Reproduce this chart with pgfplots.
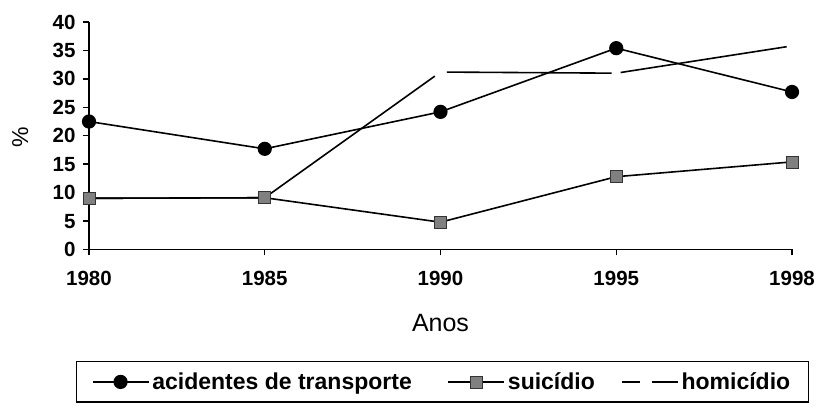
\documentclass[border=0pt]{standalone}
\usepackage{pgfplots}
\pgfplotsset{compat=1.18}
\usepackage{fontspec}
\setmainfont{Liberation Sans}
\begin{document}
\begin{tikzpicture}
\useasboundingbox (0,0) rectangle (818pt,414pt);
\begin{axis}[
  at={(89pt,164.5pt)}, anchor=south west,
  scale only axis, width=703pt, height=227.5pt,
  xmin=0, xmax=4, ymin=0, ymax=40,
  axis x line*=bottom, axis y line*=left,
  axis line style={line width=1.6pt, black},
  xtick={0,1,2,3,4}, xticklabels={1980,1985,1990,1995,1998},
  ytick={0,5,...,40},
  tick align=outside, major tick length=6pt,
  tick style={line width=1.4pt, black},
  /pgf/number format/assume math mode=true,
  ticklabel style={font=\bfseries\fontsize{20.5}{24}\selectfont},
  xticklabel style={yshift=-12pt},
  yticklabel style={xshift=-4pt},
  xlabel={Anos},
  xlabel style={font=\fontsize{25}{28}\selectfont, at={(axis description cs:0.5,-0.323)}, anchor=center},
  ylabel={\%},
  ylabel style={font=\fontsize{23}{26}\selectfont, at={(axis description cs:-0.098,0.495)}, anchor=center, rotate=0},
  legend columns=3,
  legend style={
    at={(axis description cs:0.5028,-0.582)}, anchor=center,
    draw=black, line width=1.3pt,
    inner xsep=15pt, inner ysep=8pt,
    column sep=0pt,
    font=\bfseries\fontsize{23}{26}\selectfont,
    nodes={inner sep=3pt, anchor=west},
  },
  legend image code/.code={%
    \draw[mark repeat=2,mark phase=2,#1] plot coordinates {(0pt,0pt) (28pt,0pt) (56pt,0pt)};},
]
\addplot[black, line width=1.6pt, mark=*, mark size=6.3pt, mark options={solid}]
  coordinates {(0,22.5) (1,17.7) (2,24.2) (3,35.4) (4,27.7)};
\addlegendentry{\makebox[292pt][l]{acidentes de transporte}}
\addplot[black, line width=1.6pt, mark=square*, mark size=6pt, mark options={solid, fill=black!50, draw=black!80, line width=0.8pt}]
  coordinates {(0,9.0) (1,9.1) (2,4.8) (3,12.8) (4,15.4)};
\addlegendentry{\makebox[110pt][l]{suicídio}}
\addplot[black, line width=1.6pt, dash pattern=on 384.8pt off 13.5pt on 164.7pt off 9pt on 168pt off 20pt,
  legend image code/.code={\draw[black, line width=1.6pt, dash pattern=on 18pt off 12pt on 26pt] (0pt,0pt) -- (56pt,0pt);}]
  coordinates {(0,9.0) (1,9.1) (2,31.2) (3,31.0) (4,35.8)};
\addlegendentry{homicídio}
\end{axis}
\end{tikzpicture}
\end{document}
